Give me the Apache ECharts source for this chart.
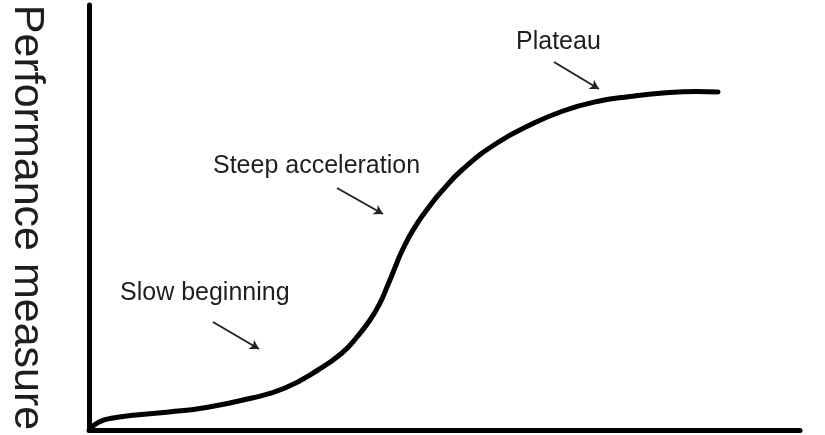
<!DOCTYPE html>
<html>
<head>
<meta charset="utf-8">
<script src="https://cdn.jsdelivr.net/npm/echarts@6/dist/echarts.min.js"></script>
<style>html,body{margin:0;padding:0;background:#fff;}#c{width:825px;height:435px;}</style>
</head>
<body>
<div id="c"></div>
<script>
// Curve readings (x, y) in axis units
const curveX = [1, 10, 24, 47, 80, 114, 163, 196, 229, 253, 268, 281, 291, 298, 305, 312, 319.5, 328.5, 340, 352, 374, 408, 441, 474, 508, 541, 574, 608, 629];
const curveY = [1, 8, 12, 15, 18, 22, 32, 42, 60, 77, 93, 110, 127, 143, 160, 177, 192, 207, 223, 238, 261, 287, 305, 319, 328.5, 333.5, 337, 338.5, 338];
const annotationLabels = ['Plateau', 'Steep acceleration', 'Slow beginning'];
const arrowStart = [[465, 368], [248, 242], [124, 108]];
const arrowEnd = [[510, 341], [294, 216], [170, 81]];
const axisTitle = 'Performance measure';

const FONT = '"Liberation Sans", Arial, Helvetica, sans-serif';
const chart = echarts.init(document.getElementById('c'), null, {renderer: 'canvas'});
const pts = curveX.map((x, i) => [x, curveY[i]]);
const labelPos = [[516, 52], [213, 176], [120, 303]];

chart.setOption({
  animation: false,
  backgroundColor: '#ffffff',
  grid: {left: 89, right: 25, top: 5, bottom: 5, containLabel: false, outerBoundsMode: 'none'},
  xAxis: {
    type: 'value', min: 0, max: 711,
    axisLine: {show: true, lineStyle: {color: '#000', width: 5}},
    axisTick: {show: false}, axisLabel: {show: false}, splitLine: {show: false}
  },
  yAxis: {
    type: 'value', min: 0, max: 425,
    name: axisTitle, nameLocation: 'middle', nameRotate: -90, nameGap: 41,
    nameTextStyle: {fontFamily: FONT, fontSize: 43, color: '#1e1e1e'},
    axisLine: {show: true, lineStyle: {color: '#000', width: 5}},
    axisTick: {show: false}, axisLabel: {show: false}, splitLine: {show: false}
  },
  series: [{
    type: 'line',
    data: pts,
    smooth: 0.5,
    showSymbol: false,
    lineStyle: {color: '#000', width: 5, cap: 'round', join: 'round'},
    silent: true,
    markLine: {
      silent: true,
      symbol: ['none', 'arrow'],
      symbolSize: [8, 9],
      label: {show: false},
      lineStyle: {color: '#222', width: 2, type: 'solid'},
      data: arrowStart.map((s, i) => [{coord: s}, {coord: arrowEnd[i]}])
    }
  }],
  graphic: annotationLabels.map((t, i) => ({
    type: 'text',
    left: labelPos[i][0],
    top: labelPos[i][1] - 22,
    style: {text: t, font: '25px ' + FONT, fill: '#1e1e1e'}
  }))
});
</script>
</body>
</html>
